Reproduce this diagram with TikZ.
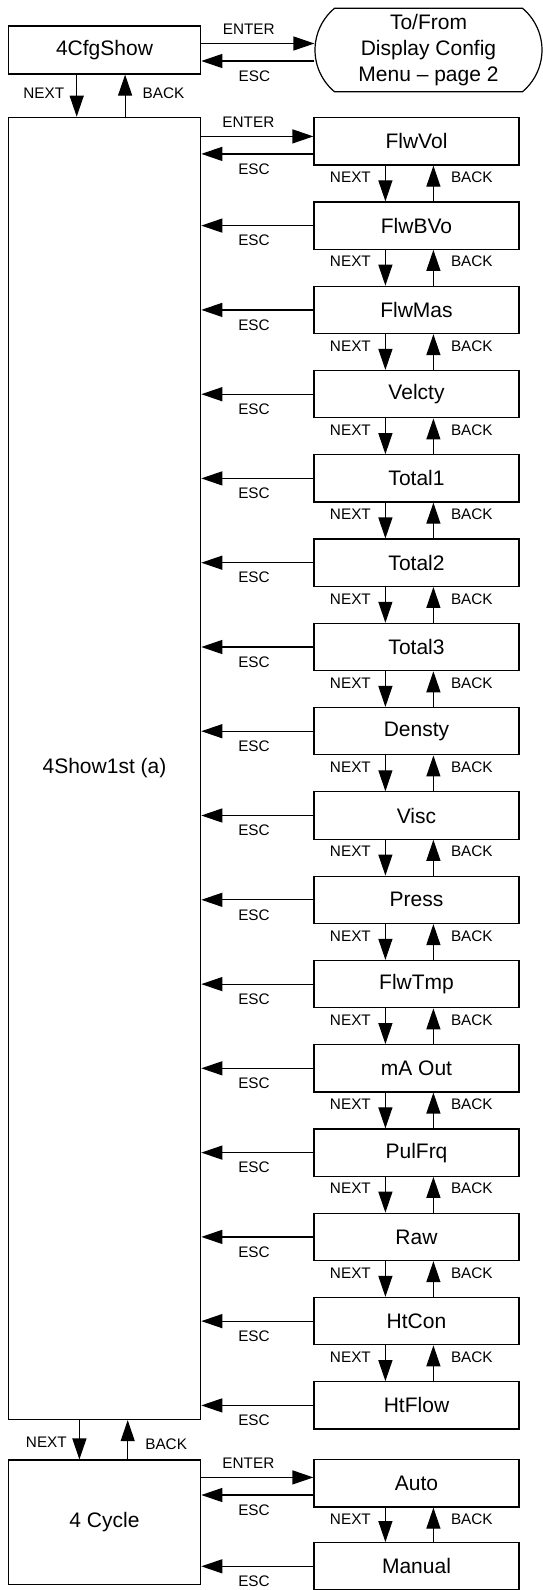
\documentclass[tikz,border=0pt]{standalone}
\usepackage{fontspec}
\setmainfont{Liberation Sans}
\usetikzlibrary{arrows.meta,calc,shapes.misc}

\begin{document}
\begin{tikzpicture}[x=1pt,y=1pt,yscale=-1,xscale=1,line width=1.2pt,
  box/.style={draw,rectangle,inner sep=0pt,font=\fontsize{21}{26}\selectfont},
  rbox/.style={box,minimum width=205pt,minimum height=47.3pt},
  lbox/.style={box,minimum width=192.4pt},
  arr/.style={-{Triangle[length=21pt,width=14pt]}},
  lbl/.style={inner sep=0pt,font=\fontsize{15.3}{18}\selectfont},
  nxt/.style={lbl,anchor=east,xshift=-14pt,pos=0.33},
  bck/.style={lbl,anchor=west,xshift=17pt,pos=0.67},
  ent/.style={lbl,inner ysep=8pt,anchor=south,pos=0.42},
  esc/.style={lbl,inner ysep=9pt,anchor=north,pos=0.53}]
\useasboundingbox (0,0) rectangle (543,1590);

%Shape: Rectangle [left column]
\node[lbox,minimum height=48pt] (cfg) at (104.5,50) {4CfgShow};
\node[lbox,minimum height=1302.2pt] (main) at (104.5,768.4) {4Show1st (a)};
\node[lbox,minimum height=124.3pt] (cycle) at (104.5,1522.2) {4 Cycle};
%Shape: Terminator
\node[draw,rounded rectangle,rounded rectangle arc length=100,inner sep=0pt,minimum width=227pt,minimum height=83.4pt,align=center,font=\fontsize{21}{26}\selectfont] (term) at (428.5,50) {To/From\\Display Config\\Menu -- page 2};

%Shape: Rectangle [right column]
\node[rbox] (vol) at (416.5,141.4) {FlwVol};
\node[rbox] (bvo) at (416.5,225.6) {FlwBVo};
\node[rbox] (mas) at (416.5,309.9) {FlwMas};
\node[rbox] (vel) at (416.5,394.2) {Velcty};
\node[rbox] (tot1) at (416.5,478.4) {Total1};
\node[rbox] (tot2) at (416.5,562.7) {Total2};
\node[rbox] (tot3) at (416.5,647.0) {Total3};
\node[rbox] (dens) at (416.5,731.2) {Densty};
\node[rbox] (visc) at (416.5,815.5) {Visc};
\node[rbox] (press) at (416.5,899.8) {Press};
\node[rbox] (tmp) at (416.5,984.1) {FlwTmp};
\node[rbox] (mao) at (416.5,1068.3) {mA Out};
\node[rbox] (pul) at (416.5,1152.6) {PulFrq};
\node[rbox] (raw) at (416.5,1236.9) {Raw};
\node[rbox] (htc) at (416.5,1321.1) {HtCon};
\node[rbox] (htf) at (416.5,1405.4) {HtFlow};
\node[rbox] (auto) at (416.5,1483.4) {Auto};
\node[rbox] (man) at (416.5,1566.3) {Manual};

%Straight Lines [ENTER / ESC]
\coordinate (cfg-in) at ($(cfg.east)+(0,-6.5)$);
\coordinate (cfg-out) at ($(cfg.east)+(0,11)$);
\draw[arr] (cfg-in) -- node[ent]{ENTER} (cfg-in -| term.west);
\draw[arr] (cfg-out -| term.west) -- node[esc]{ESC} (cfg-out);
\coordinate (vol-in) at ($(vol.west)+(0,-5)$);
\coordinate (vol-out) at ($(vol.west)+(0,12.5)$);
\draw[arr] (vol-in -| main.east) -- node[ent]{ENTER} (vol-in);
\draw[arr] (vol-out) -- node[esc]{ESC} (vol-out -| main.east);
\coordinate (auto-in) at ($(auto.west)+(0,-6)$);
\coordinate (auto-out) at ($(auto.west)+(0,11.6)$);
\draw[arr] (auto-in -| cycle.east) -- node[ent]{ENTER} (auto-in);
\draw[arr] (auto-out) -- node[esc]{ESC} (auto-out -| cycle.east);
\draw[arr] (bvo.west) -- node[esc]{ESC} (bvo.west -| main.east);
\draw[arr] (mas.west) -- node[esc]{ESC} (mas.west -| main.east);
\draw[arr] (vel.west) -- node[esc]{ESC} (vel.west -| main.east);
\draw[arr] (tot1.west) -- node[esc]{ESC} (tot1.west -| main.east);
\draw[arr] (tot2.west) -- node[esc]{ESC} (tot2.west -| main.east);
\draw[arr] (tot3.west) -- node[esc]{ESC} (tot3.west -| main.east);
\draw[arr] (dens.west) -- node[esc]{ESC} (dens.west -| main.east);
\draw[arr] (visc.west) -- node[esc]{ESC} (visc.west -| main.east);
\draw[arr] (press.west) -- node[esc]{ESC} (press.west -| main.east);
\draw[arr] (tmp.west) -- node[esc]{ESC} (tmp.west -| main.east);
\draw[arr] (mao.west) -- node[esc]{ESC} (mao.west -| main.east);
\draw[arr] (pul.west) -- node[esc]{ESC} (pul.west -| main.east);
\draw[arr] (raw.west) -- node[esc]{ESC} (raw.west -| main.east);
\draw[arr] (htc.west) -- node[esc]{ESC} (htc.west -| main.east);
\draw[arr] (htf.west) -- node[esc]{ESC} (htf.west -| main.east);
\draw[arr] (man.west) -- node[esc]{ESC} (man.west -| cycle.east);

%Straight Lines [NEXT / BACK, left column]
\draw[arr] ($(cfg.south west)+(69,0)$) -- node[nxt,pos=0.45,xshift=2pt]{NEXT} ($(main.north west)+(69,0)$);
\draw[arr] ($(main.north west)+(117.4,0)$) -- node[bck,pos=0.55]{BACK} ($(cfg.south west)+(117.4,0)$);
\draw[arr] ($(main.south west)+(71.7,0)$) -- node[nxt,pos=0.57,xshift=2pt]{NEXT} ($(cycle.north west)+(71.7,0)$);
\draw[arr] ($(cycle.north west)+(120,0)$) -- node[bck,pos=0.39]{BACK} ($(main.south west)+(120,0)$);

%Straight Lines [NEXT / BACK, right column]
\draw[arr] ($(vol.south west)+(72,0)$) -- node[nxt]{NEXT} ($(bvo.north west)+(72,0)$);
\draw[arr] ($(bvo.north west)+(120,0)$) -- node[bck]{BACK} ($(vol.south west)+(120,0)$);
\draw[arr] ($(bvo.south west)+(72,0)$) -- node[nxt]{NEXT} ($(mas.north west)+(72,0)$);
\draw[arr] ($(mas.north west)+(120,0)$) -- node[bck]{BACK} ($(bvo.south west)+(120,0)$);
\draw[arr] ($(mas.south west)+(72,0)$) -- node[nxt]{NEXT} ($(vel.north west)+(72,0)$);
\draw[arr] ($(vel.north west)+(120,0)$) -- node[bck]{BACK} ($(mas.south west)+(120,0)$);
\draw[arr] ($(vel.south west)+(72,0)$) -- node[nxt]{NEXT} ($(tot1.north west)+(72,0)$);
\draw[arr] ($(tot1.north west)+(120,0)$) -- node[bck]{BACK} ($(vel.south west)+(120,0)$);
\draw[arr] ($(tot1.south west)+(72,0)$) -- node[nxt]{NEXT} ($(tot2.north west)+(72,0)$);
\draw[arr] ($(tot2.north west)+(120,0)$) -- node[bck]{BACK} ($(tot1.south west)+(120,0)$);
\draw[arr] ($(tot2.south west)+(72,0)$) -- node[nxt]{NEXT} ($(tot3.north west)+(72,0)$);
\draw[arr] ($(tot3.north west)+(120,0)$) -- node[bck]{BACK} ($(tot2.south west)+(120,0)$);
\draw[arr] ($(tot3.south west)+(72,0)$) -- node[nxt]{NEXT} ($(dens.north west)+(72,0)$);
\draw[arr] ($(dens.north west)+(120,0)$) -- node[bck]{BACK} ($(tot3.south west)+(120,0)$);
\draw[arr] ($(dens.south west)+(72,0)$) -- node[nxt]{NEXT} ($(visc.north west)+(72,0)$);
\draw[arr] ($(visc.north west)+(120,0)$) -- node[bck]{BACK} ($(dens.south west)+(120,0)$);
\draw[arr] ($(visc.south west)+(72,0)$) -- node[nxt]{NEXT} ($(press.north west)+(72,0)$);
\draw[arr] ($(press.north west)+(120,0)$) -- node[bck]{BACK} ($(visc.south west)+(120,0)$);
\draw[arr] ($(press.south west)+(72,0)$) -- node[nxt]{NEXT} ($(tmp.north west)+(72,0)$);
\draw[arr] ($(tmp.north west)+(120,0)$) -- node[bck]{BACK} ($(press.south west)+(120,0)$);
\draw[arr] ($(tmp.south west)+(72,0)$) -- node[nxt]{NEXT} ($(mao.north west)+(72,0)$);
\draw[arr] ($(mao.north west)+(120,0)$) -- node[bck]{BACK} ($(tmp.south west)+(120,0)$);
\draw[arr] ($(mao.south west)+(72,0)$) -- node[nxt]{NEXT} ($(pul.north west)+(72,0)$);
\draw[arr] ($(pul.north west)+(120,0)$) -- node[bck]{BACK} ($(mao.south west)+(120,0)$);
\draw[arr] ($(pul.south west)+(72,0)$) -- node[nxt]{NEXT} ($(raw.north west)+(72,0)$);
\draw[arr] ($(raw.north west)+(120,0)$) -- node[bck]{BACK} ($(pul.south west)+(120,0)$);
\draw[arr] ($(raw.south west)+(72,0)$) -- node[nxt]{NEXT} ($(htc.north west)+(72,0)$);
\draw[arr] ($(htc.north west)+(120,0)$) -- node[bck]{BACK} ($(raw.south west)+(120,0)$);
\draw[arr] ($(htc.south west)+(72,0)$) -- node[nxt]{NEXT} ($(htf.north west)+(72,0)$);
\draw[arr] ($(htf.north west)+(120,0)$) -- node[bck]{BACK} ($(htc.south west)+(120,0)$);
\draw[arr] ($(auto.south west)+(72,0)$) -- node[nxt]{NEXT} ($(man.north west)+(72,0)$);
\draw[arr] ($(man.north west)+(120,0)$) -- node[bck]{BACK} ($(auto.south west)+(120,0)$);

\end{tikzpicture}
\end{document}
